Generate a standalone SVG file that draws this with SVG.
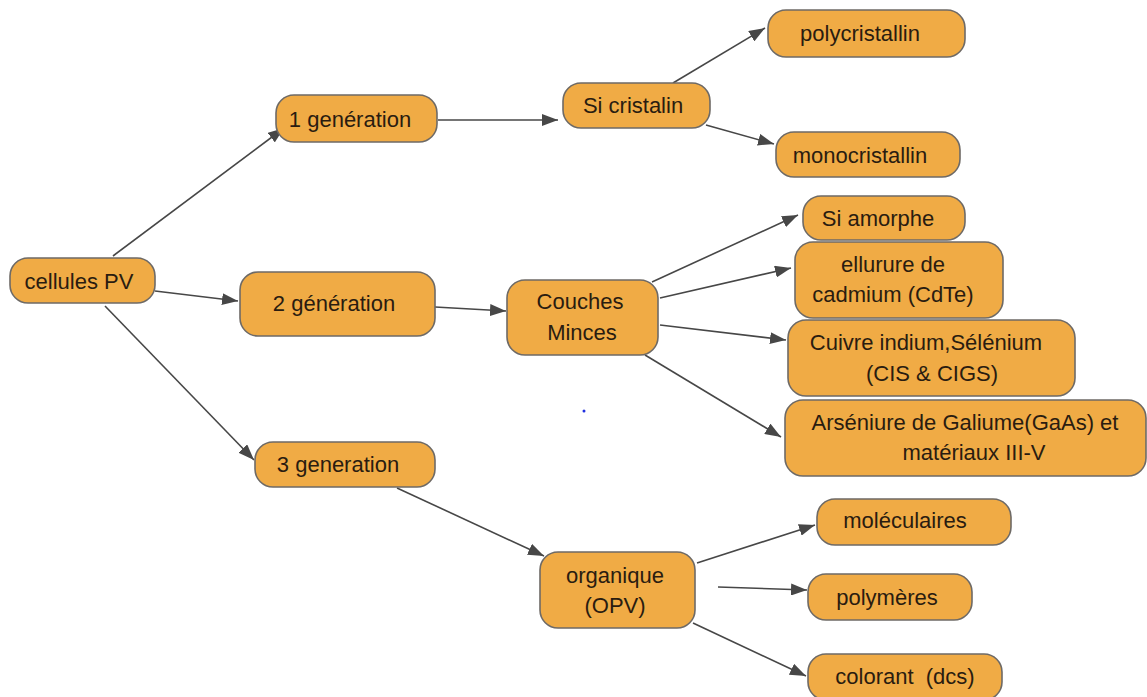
<svg xmlns="http://www.w3.org/2000/svg" width="1147" height="697" viewBox="0 0 1147 697">
<style>
.n{fill:#F0AB45;stroke:#6e6a66;stroke-width:1.6}
.t{font-family:"Liberation Sans",Arial,sans-serif;font-size:22px;fill:#2a1c10;text-anchor:middle;white-space:pre}
.e{stroke:#474747;stroke-width:1.6;fill:none;marker-end:url(#ah)}
</style>
<defs>
<marker id="ah" viewBox="0 0 16 12" refX="16" refY="6" markerWidth="16" markerHeight="12" markerUnits="userSpaceOnUse" orient="auto">
<path d="M0,0 L16,6 L0,12 Z" fill="#474747"/>
</marker>
</defs>
<rect width="1147" height="697" fill="#ffffff"/>
<g id="connectors">
<line class="e" x1="113" y1="256" x2="284" y2="128"/>
<line class="e" x1="155" y1="291" x2="238" y2="301"/>
<line class="e" x1="105" y1="306" x2="254" y2="460"/>
<line class="e" x1="438" y1="120" x2="558" y2="120"/>
<line class="e" x1="673" y1="83" x2="765" y2="28"/>
<line class="e" x1="706" y1="125" x2="774" y2="144"/>
<line class="e" x1="435" y1="307" x2="506" y2="311"/>
<line class="e" x1="652" y1="282" x2="798" y2="215"/>
<line class="e" x1="660" y1="298" x2="791" y2="268"/>
<line class="e" x1="660" y1="325" x2="786" y2="340"/>
<line class="e" x1="645" y1="355" x2="781" y2="437"/>
<line class="e" x1="397" y1="488" x2="544" y2="556"/>
<line class="e" x1="697" y1="563" x2="815" y2="525"/>
<line class="e" x1="718" y1="587" x2="807" y2="590"/>
<line class="e" x1="693" y1="623" x2="806" y2="676"/>
</g>
<g id="n-cellules"><rect class="n" x="10" y="258" width="145" height="45" rx="18"/><text class="t" x="79" y="289">cellules PV</text></g>
<g id="n-gen1"><rect class="n" x="276" y="95" width="161" height="47" rx="18"/><text class="t" x="350" y="127">1 genération</text></g>
<g id="n-sicristalin"><rect class="n" x="563" y="83" width="147" height="45" rx="18"/><text class="t" x="633" y="113">Si cristalin</text></g>
<g id="n-poly"><rect class="n" x="768" y="10" width="197" height="47" rx="18"/><text class="t" x="860" y="41">polycristallin</text></g>
<g id="n-mono"><rect class="n" x="776" y="132" width="184" height="45" rx="18"/><text class="t" x="860" y="163">monocristallin</text></g>
<g id="n-gen2"><rect class="n" x="240" y="272" width="195" height="64" rx="18"/><text class="t" x="334" y="311">2 génération</text></g>
<g id="n-couches"><rect class="n" x="507" y="280" width="151" height="75" rx="18"/><text class="t" x="580" y="309">Couches</text><text class="t" x="582" y="340">Minces</text></g>
<g id="n-siamorphe"><rect class="n" x="803" y="196" width="162" height="44" rx="18"/><text class="t" x="878" y="226">Si amorphe</text></g>
<g id="n-cdte"><rect class="n" x="795" y="242" width="208" height="76" rx="18"/><text class="t" x="893" y="272">ellurure de</text><text class="t" x="893" y="302">cadmium (CdTe)</text></g>
<g id="n-cigs"><rect class="n" x="788" y="320" width="287" height="76" rx="18"/><text class="t" x="926" y="350">Cuivre indium,Sélénium</text><text class="t" x="932" y="381">(CIS &amp; CIGS)</text></g>
<g id="n-gaas"><rect class="n" x="785" y="400" width="361" height="76" rx="18"/><text class="t" x="965" y="430">Arséniure de Galiume(GaAs) et</text><text class="t" x="974" y="460">matériaux III-V</text></g>
<g id="n-gen3"><rect class="n" x="255" y="442" width="180" height="45" rx="18"/><text class="t" x="338" y="472">3 generation</text></g>
<g id="n-organique"><rect class="n" x="540" y="552" width="155" height="76" rx="18"/><text class="t" x="615" y="583">organique</text><text class="t" x="615" y="613">(OPV)</text></g>
<g id="n-moleculaires"><rect class="n" x="817" y="499" width="194" height="46" rx="18"/><text class="t" x="905" y="528">moléculaires</text></g>
<g id="n-polymeres"><rect class="n" x="808" y="574" width="164" height="46" rx="18"/><text class="t" x="887" y="605">polymères</text></g>
<g id="n-colorant"><rect class="n" x="808" y="654" width="194" height="46" rx="18"/><text class="t" x="905" y="684">colorant  (dcs)</text></g>
<circle cx="584" cy="411" r="1.5" fill="#2030e0"/>
</svg>
